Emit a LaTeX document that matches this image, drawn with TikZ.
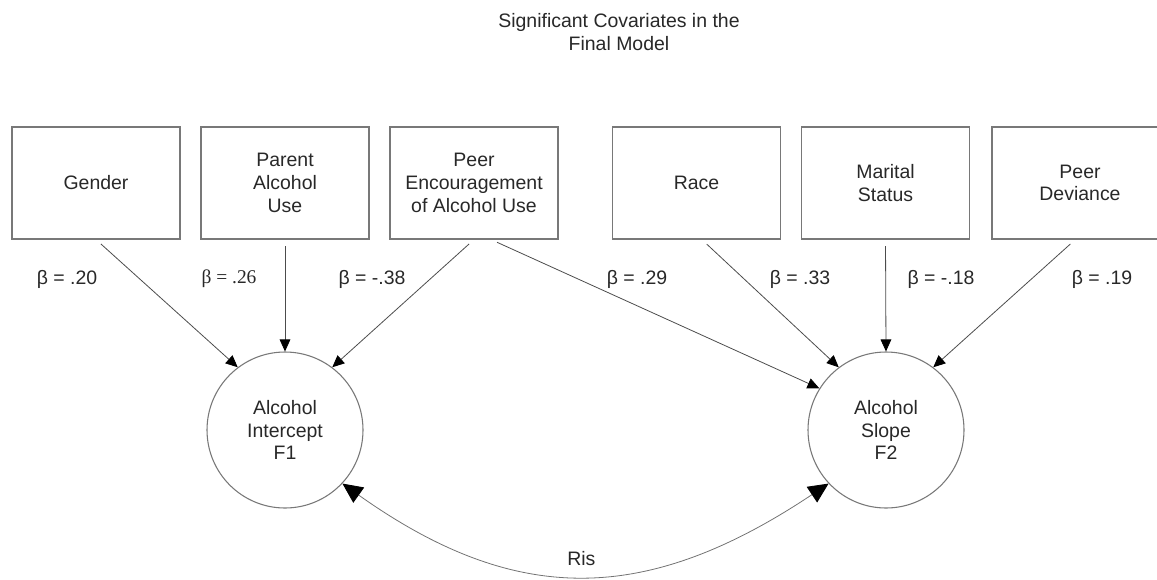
\documentclass[tikz,border=0pt]{standalone}
\usepackage{fontspec}
\setmainfont{Liberation Sans}
\newfontfamily\timesfont{Liberation Serif}
\usepackage{tikz}
\usetikzlibrary{arrows.meta,positioning,calc}
\definecolor{boxgrey}{RGB}{120,120,120}
\definecolor{textdark}{RGB}{40,40,40}

\begin{document}
\begin{tikzpicture}[x=0.75pt, y=-0.75pt,
    every node/.style={text=textdark, font=\fontsize{14.6pt}{17pt}\selectfont},
    covar/.style={rectangle, draw=boxgrey, line width=0.8pt, align=center,
        minimum width=126pt, minimum height=84pt, inner sep=0pt},
    factor/.style={circle, draw=boxgrey, line width=0.8pt, align=center,
        minimum size=117pt, inner sep=0pt},
    path/.style={-{Triangle[length=9pt, width=8pt, color=black]}, draw=black!70,
        line width=0.6pt, shorten <=5pt},
    corr/.style={{Triangle[length=15pt, width=14pt, color=black]}-{Triangle[length=15pt, width=14pt, color=black]},
        draw=black!55, line width=0.6pt},
    coef/.style={align=center}
]
    \useasboundingbox (0,0) rectangle (1157,579);

    \node[align=center] (title) at (619,32) {Significant Covariates in the\\Final Model};

    \node[covar] (gender) at (96,183) {Gender};
    \node[covar] (parent) at (285,183) {Parent\\Alcohol\\Use};
    \node[covar] (peerenc) at (474,183) {Peer\\Encouragement\\of Alcohol Use};
    \node[covar] (race) at (696.5,183) {Race};
    \node[covar] (marital) at (885.5,183) {Marital\\Status};
    \node[covar, minimum width=132pt] (peerdev) at (1080,183) {Peer\\Deviance};

    \node[factor] (f1) at (285,430) {Alcohol\\Intercept\\F1};
    \node[factor] (f2) at (886,430) {Alcohol\\Slope\\F2};

    \node[coef] (bgender) at (67,279) {β = .20};
    \node[coef] (bparent) at (229,279) {\timesfont β = .26};
    \node[coef] (bpeerenc) at (372,279) {β = -.38};
    \node[coef] (bpeerenc2) at (637,279) {β = .29};
    \node[coef] (brace) at (800,279) {β = .33};
    \node[coef] (bmarital) at (941,279) {β = -.18};
    \node[coef] (bpeerdev) at (1102,279) {β = .19};

    \draw[path] (gender.south) -- (f1.127);
    \draw[path] (parent.south) -- (f1.90);
    \draw[path] (peerenc.south) -- (f1.53);
    \draw[path] ([xshift=12.75pt]peerenc.south) -- (f2.148);
    \draw[path] ([xshift=4pt]race.south) -- (f2.127);
    \draw[path] (marital.south) -- (f2.90);
    \draw[path] ([xshift=-3.5pt]peerdev.south) -- (f2.53);

    \draw[corr] (f1.-43) .. controls (515,606) and (645,606) .. (f2.-137)
        node[pos=0.5, above=4pt] (ris) {Ris};
\end{tikzpicture}
\end{document}
